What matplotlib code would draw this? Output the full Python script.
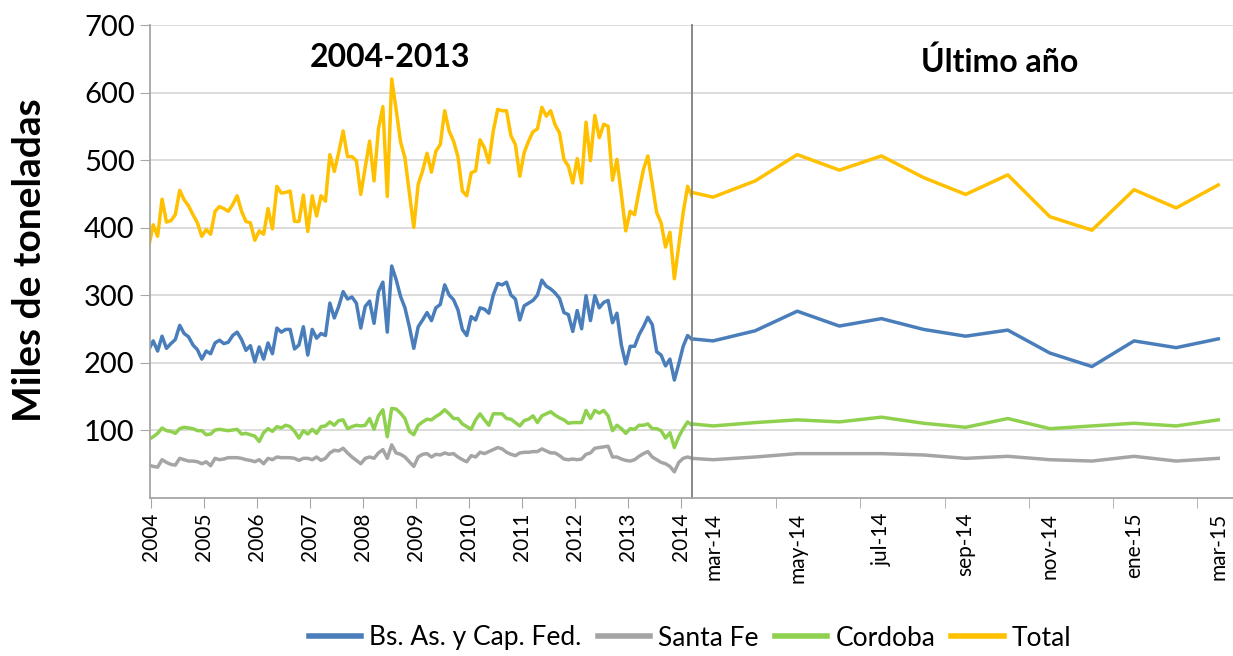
import numpy as np
import matplotlib.pyplot as plt
from matplotlib.lines import Line2D

plt.rcParams['font.family'] = ['Lato', 'DejaVu Sans']

#######################################
# Data (miles de toneladas)
#######################################
# monthly, dec-2003 .. feb-2014
total_hist = [372, 404, 387, 442, 408, 410, 419, 455, 441, 432, 419, 407, 387, 397, 390, 424,
              431, 428, 424, 434, 447, 424, 409, 407, 381, 395, 390, 428, 398, 461, 451, 452,
              454, 409, 409, 448, 394, 447, 417, 447, 439, 508, 483, 511, 543, 505, 505, 499,
              449, 489, 528, 469, 546, 579, 446, 620, 575, 527, 503, 451, 400, 464, 484,
              510, 482, 513, 523, 573, 543, 528, 505, 454, 447, 481, 484, 530, 518, 496, 543,
              575, 573, 573, 536, 523, 476, 511, 528, 542, 546, 578, 565, 573,
              552, 540, 501, 491, 466, 502, 466, 556, 499, 566, 533, 553, 550, 470, 501, 449,
              395, 424, 419, 454, 486, 506, 464, 422, 407, 371, 393, 324, 373, 422, 461, 446]
bsas_hist = [219, 232, 217, 239, 221, 228, 234, 255, 243, 238, 226, 219, 205, 217, 213, 229,
             233, 228, 230, 240, 245, 234, 218, 225, 201, 223, 205, 229, 213, 251, 245, 249,
             249, 220, 226, 253, 211, 249, 236, 243, 240, 288, 266, 283, 305, 294, 297, 288,
             251, 283, 291, 258, 305, 319, 245, 343, 323, 298, 281, 253, 221, 253, 263,
             274, 262, 281, 286, 315, 300, 293, 278, 249, 240, 268, 263, 281, 279, 273, 300,
             317, 315, 319, 300, 294, 263, 284, 288, 292, 300, 322, 313, 309,
             303, 295, 274, 271, 246, 277, 250, 299, 262, 299, 281, 289, 292, 259, 273, 226,
             198, 224, 224, 241, 253, 267, 256, 216, 211, 195, 205, 174, 198, 224, 240, 234]
cba_hist = [86, 90, 95, 103, 99, 98, 95, 102, 104, 103, 102, 99, 99, 93, 94, 100,
            101, 100, 99, 100, 101, 94, 95, 93, 91, 83, 96, 102, 98, 105, 103, 107,
            105, 98, 88, 99, 94, 101, 95, 105, 106, 112, 107, 114, 115, 102, 105, 107,
            106, 107, 117, 101, 121, 130, 90, 132, 131, 125, 117, 98, 93, 107, 112,
            116, 115, 120, 124, 130, 124, 117, 117, 109, 105, 101, 115, 124, 115, 107, 124,
            124, 124, 117, 116, 111, 106, 114, 116, 121, 111, 121, 124, 127,
            122, 118, 115, 110, 111, 111, 111, 129, 117, 129, 125, 129, 121, 99, 107, 102,
            95, 102, 101, 107, 107, 109, 102, 102, 99, 88, 96, 74, 90, 102, 112, 107]
sfe_hist = [48, 46, 45, 56, 52, 49, 48, 58, 56, 54, 54, 53, 50, 53, 47, 58,
            56, 57, 59, 59, 59, 58, 56, 55, 53, 56, 50, 58, 56, 60, 59, 59,
            59, 58, 55, 58, 58, 56, 60, 55, 58, 66, 70, 69, 73, 66, 60, 55,
            50, 58, 60, 58, 66, 71, 58, 78, 66, 64, 60, 53, 46, 60, 64,
            65, 60, 64, 63, 66, 64, 65, 60, 56, 53, 62, 60, 67, 65, 68, 71,
            74, 72, 67, 64, 62, 66, 67, 67, 68, 68, 72, 69, 66,
            66, 62, 57, 56, 57, 56, 57, 64, 66, 73, 74, 75, 76, 60, 60, 57,
            55, 54, 56, 61, 65, 68, 60, 56, 52, 50, 46, 38, 52, 58, 60, 58]

# last year: feb-14 .. mar-15
months = ['feb-14', 'mar-14', 'abr-14', 'may-14', 'jun-14', 'jul-14', 'ago-14', 'sep-14',
          'oct-14', 'nov-14', 'dic-14', 'ene-15', 'feb-15', 'mar-15']
total_last = [452, 445, 469, 508, 485, 506, 474, 449, 478, 416, 396, 456, 429, 463]
bsas_last = [235, 232, 247, 276, 254, 265, 249, 239, 248, 214, 194, 232, 222, 235]
cba_last = [109, 106, 111, 115, 112, 119, 110, 104, 117, 102, 106, 110, 106, 115]
sfe_last = [58, 56, 60, 65, 65, 65, 63, 58, 61, 56, 54, 61, 54, 58]

names = ['Bs. As. y Cap. Fed.', 'Santa Fe', 'Cordoba', 'Total']
colors = ['#4a7ebb', '#a5a5a5', '#8fd14f', '#ffc000']
year_ticks = list(range(2004, 2015))

#######################################
# Plot
#######################################
W, H = 1233, 656
fig = plt.figure(figsize=(W / 100, H / 100), dpi=100)
bot = 1 - 497.5 / H
hgt = 472.5 / H
ax1 = fig.add_axes([150 / W, bot, 542 / W, hgt])
ax2 = fig.add_axes([692 / W, bot, 541 / W, hgt])

t = 2004 + (np.arange(len(total_hist)) - 0.5) / 12
xm = np.arange(len(months)) - 1.0
xm[0] = -0.5

hist = [bsas_hist, sfe_hist, cba_hist, total_hist]
last = [bsas_last, sfe_last, cba_last, total_last]
for h, l, c in zip(hist, last, colors):
    ax1.plot(t, h, color=c, lw=2.5)
    ax2.plot(xm, l, color=c, lw=2.5)

for ax in (ax1, ax2):
    ax.set_ylim(0, 700)
    ax.set_yticks(range(100, 800, 100))
    ax.grid(axis='y', color='#d9d9d9', lw=1.3)
    ax.set_axisbelow(True)
    ax.spines['top'].set_visible(False)
    ax.spines['right'].set_visible(False)
    ax.spines['bottom'].set_color('#a6a6a6')
    ax.spines['bottom'].set_linewidth(1.3)

ax1.set_xlim(2003.981, 2014.208)
ax1.set_xticks(year_ticks)
ax1.set_xticklabels([str(y) for y in year_ticks], rotation=90, fontsize=15)
ax1.tick_params(axis='x', length=7, color='#a6a6a6', pad=4)
ax1.tick_params(axis='y', length=7, color='#a6a6a6', labelsize=21, pad=4)
ax1.spines['left'].set_color('#a6a6a6')
ax1.spines['left'].set_linewidth(1.3)

ax2.set_xlim(-0.5, 12.35)
ax2.set_xticks(range(0, 13, 2))
ax2.set_xticklabels(months[1::2], rotation=90, fontsize=15)
ax2.set_xticks(np.arange(1.5, 12, 2), minor=True)
ax2.tick_params(axis='x', which='major', length=0, pad=11)
ax2.tick_params(axis='x', which='minor', length=7, color='#a6a6a6')
ax2.tick_params(axis='y', length=0, labelleft=False)
ax2.spines['left'].set_color('#7f7f7f')
ax2.spines['left'].set_linewidth(1.3)

ax1.text(0.443, 0.932, '2004-2013', transform=ax1.transAxes, ha='center', va='center',
         fontsize=23, fontweight='bold')
ax2.text(0.569, 0.922, 'Último año', transform=ax2.transAxes, ha='center', va='center',
         fontsize=23, fontweight='bold')

fig.text(30 / W, 1 - 260 / H, 'Miles de toneladas', rotation=90, ha='center', va='center',
         fontsize=28, fontweight='bold')

handles = [Line2D([], [], color=c, lw=4) for c in colors]
fig.legend(handles, names, loc='center', bbox_to_anchor=(690 / W, 1 - 638 / H), ncol=4,
           frameon=False, fontsize=19, handlelength=2.0, handletextpad=0.3,
           columnspacing=0.6)

fig.savefig('out.png', dpi=100)
